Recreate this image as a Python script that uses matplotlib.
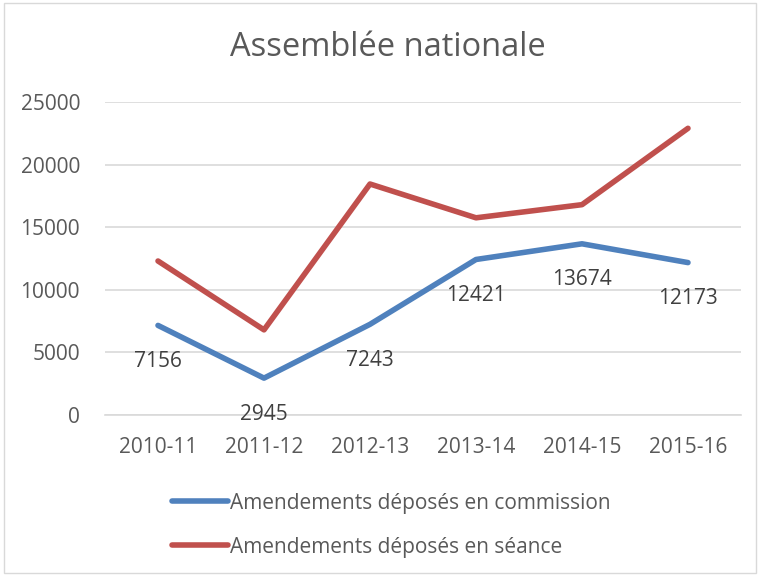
import matplotlib.pyplot as plt
from matplotlib.patches import Rectangle

plt.rcParams['font.family'] = ['Open Sans', 'DejaVu Sans']

# Data
years = ['2010-11', '2011-12', '2012-13', '2013-14', '2014-15', '2015-16']
commission = [7156, 2945, 7243, 12421, 13674, 12173]
seance = [12300, 6800, 18450, 15750, 16800, 22900]

blue = '#4f81bd'
red = '#c0504d'
txt = '#595959'

fig = plt.figure(figsize=(7.6, 5.77), dpi=100)
ax = fig.add_axes([105 / 760, 1 - 415 / 577, 636 / 760, 313 / 577])

x = range(len(years))
ax.plot(x, commission, color=blue, lw=4, solid_capstyle='round', solid_joinstyle='round',
        label='Amendements déposés en commission')
ax.plot(x, seance, color=red, lw=4, solid_capstyle='round', solid_joinstyle='round',
        label='Amendements déposés en séance')

# Data labels under the blue line
for i, v in enumerate(commission):
    ax.annotate(str(v), (i, v), xytext=(0, -26), textcoords='offset points',
                ha='center', va='center', fontsize=15, color='#404040')

ax.set_xlim(-0.5, len(years) - 0.5)
ax.set_ylim(0, 25000)
ax.set_yticks(range(0, 25001, 5000))
ax.set_xticks(list(x))
ax.set_xticklabels(years)
ax.tick_params(length=0, labelsize=15, labelcolor=txt)
ax.tick_params(axis='y', pad=18)
ax.tick_params(axis='x', pad=16)
ax.grid(axis='y', color='#d9d9d9', lw=1.2)
ax.set_axisbelow(True)
for s in ['top', 'right', 'left']:
    ax.spines[s].set_visible(False)
ax.spines['bottom'].set_color('#d9d9d9')
ax.spines['bottom'].set_linewidth(1.2)

fig.text(388 / 760, 1 - 48 / 577, 'Assemblée nationale', ha='center', va='center',
         fontsize=23.5, color=txt)

leg = fig.legend(loc='upper left', bbox_to_anchor=(153 / 760, 1 - 474 / 577), frameon=False,
                 fontsize=15, handlelength=2.7, handletextpad=0.1, labelspacing=1.1,
                 labelcolor=txt)

# Outer chart border
fig.patches.append(Rectangle((4 / 760, 4 / 577), 752 / 760, 570 / 577, transform=fig.transFigure,
                             fill=False, edgecolor='#d9d9d9', lw=1))

fig.savefig('out.png', dpi=100)
